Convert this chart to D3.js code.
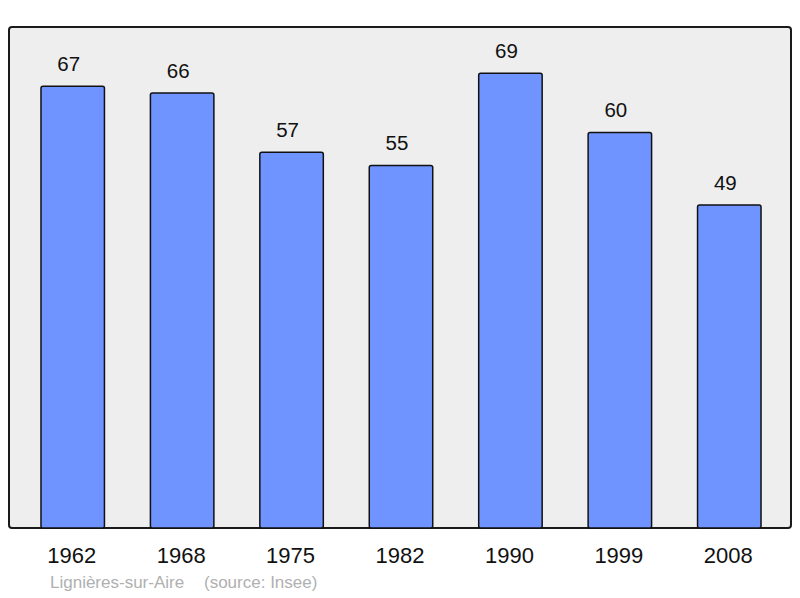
<!DOCTYPE html>
<html>
<head>
<meta charset="utf-8">
<script src="https://cdn.jsdelivr.net/npm/d3@7"></script>
<style>
  body { margin: 0; background: #ffffff; }
  text { font-family: "Liberation Sans", Arial, sans-serif; }
</style>
</head>
<body>
<script>
// years and population
let years = ['1962', '1968', '1975', '1982', '1990', '1999', '2008']
let population = [67, 66, 57, 55, 69, 60, 49]
let townName = 'Lignières-sur-Aire'
let sourceText = '(source: Insee)'

let width = 800
let height = 598

// plot frame
let frameLeft = 9
let frameTop = 27
let frameRight = 791
let frameBottom = 528

let svg = d3.select('body')
            .append('svg')
            .attr('width', width)
            .attr('height', height)

svg.append('rect')
    .attr('x', frameLeft)
    .attr('y', frameTop)
    .attr('width', frameRight - frameLeft)
    .attr('height', frameBottom - frameTop)
    .attr('rx', 3)
    .attr('fill', '#eeeeee')
    .attr('stroke', '#1a1a1a')
    .attr('stroke-width', 2)

let xScale = d3.scaleBand()
               .domain(years)
               .range([18, 784])
               .paddingInner(0.42)
               .paddingOuter(0.21)

let yScale = d3.scaleLinear()
               .domain([0, 76])
               .range([frameBottom, frameTop])

svg.selectAll('rect.bar')
    .data(population)
    .enter()
    .append('rect')
    .attr('class', 'bar')
    .attr('x', (d, i) => xScale(years[i]))
    .attr('y', (d) => yScale(d))
    .attr('width', xScale.bandwidth())
    .attr('height', (d) => yScale(0) - yScale(d))
    .attr('rx', 2)
    .attr('fill', '#7094ff')
    .attr('stroke', '#111111')
    .attr('stroke-width', 1.5)

svg.selectAll('text.value')
    .data(population)
    .enter()
    .append('text')
    .attr('class', 'value')
    .attr('x', (d, i) => xScale(years[i]) + xScale.bandwidth() / 2 - 4)
    .attr('y', (d) => yScale(d) - 15)
    .attr('text-anchor', 'middle')
    .attr('font-size', 20.5)
    .attr('fill', '#111111')
    .text((d) => d)

// year labels via a bottom axis without lines
let xAxis = d3.axisBottom(xScale).tickSize(0).tickPadding(0)
let axisG = svg.append('g')
    .attr('transform', 'translate(0,' + frameBottom + ')')
    .call(xAxis)
axisG.select('.domain').remove()
axisG.selectAll('text')
    .attr('dy', null)
    .attr('x', -1)
    .attr('y', 35)
    .attr('font-size', 22)
    .attr('font-family', '"Liberation Sans", Arial, sans-serif')
    .attr('fill', '#111111')

svg.append('text')
    .attr('x', 50)
    .attr('y', 588)
    .attr('font-size', 17)
    .attr('fill', '#b0b0b0')
    .text(townName)

svg.append('text')
    .attr('x', 204)
    .attr('y', 588)
    .attr('font-size', 17)
    .attr('fill', '#b0b0b0')
    .text(sourceText)
</script>
</body>
</html>
